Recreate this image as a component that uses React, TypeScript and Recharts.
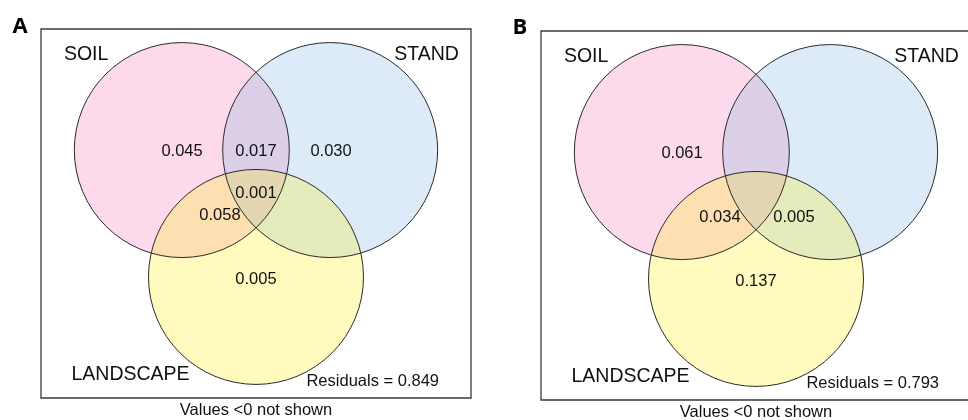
import React from 'react';
import { ScatterChart, Scatter, XAxis, YAxis, ReferenceArea } from 'recharts';

// ---- data ----
const setNames = ['SOIL', 'STAND', 'LANDSCAPE'];
const circleX = [-0.69, 0.69, 0];
const circleY = [0.59, 0.59, -0.59];
const circleR = [1.0, 1.0, 1.0];
const circleColors = ['#FBB5D7', '#BBD7F1', '#FFF77F'];
const regionColors = ['#FDDAEB', '#DDEBF8', '#FFFBBF'];
const setLabelX = [-1.58, 1.586, -1.167];
const setLabelY = [1.493, 1.493, -1.484];

const panelLetters = ['A', 'B'];
const residuals = [0.849, 0.793];

const valuesA = [0.045, 0.017, 0.03, 0.001, 0.058, 0.005];
const valuesAX = [-0.688, 0.0, 0.698, 0.0, -0.335, 0.0];
const valuesAY = [0.591, 0.591, 0.591, 0.2, -0.005, -0.6];

const valuesB = [0.061, 0.034, 0.005, 0.137];
const valuesBX = [-0.688, -0.335, 0.353, 0.0];
const valuesBY = [0.586, -0.01, -0.01, -0.605];

const residualPos = [1.086, -1.547];
const footnote = 'Values <0 not shown';

// ---- layout ----
const CHART_W = 500;
const CHART_H = 420;
const MARGIN = { top: 29, left: 41, right: 29, bottom: 22 };
const PLOT_W = CHART_W - MARGIN.left - MARGIN.right;
const PLOT_H = CHART_H - MARGIN.top - MARGIN.bottom;
const X_HALF = 2;
const PX_PER_UNIT = PLOT_W / (2 * X_HALF);
const Y_HALF = PLOT_H / 2 / PX_PER_UNIT;
const FONT = '"Liberation Sans", Arial, Helvetica, sans-serif';

const circles = setNames.map((name, i) => ({
  name,
  x: circleX[i],
  y: circleY[i],
  r: circleR[i],
  color: circleColors[i],
  region: regionColors[i],
}));

const setLabels = setNames.map((name, i) => ({ name, x: setLabelX[i], y: setLabelY[i] }));

const CircleFill = (props: any) => {
  const { cx, cy, payload } = props;
  return (
    <circle cx={cx} cy={cy} r={payload.r * PX_PER_UNIT} fill={payload.color} fillOpacity={0.5} stroke="none" />
  );
};
const CircleMultiply = (props: any) => {
  const { cx, cy, payload } = props;
  return (
    <circle
      cx={cx}
      cy={cy}
      r={payload.r * PX_PER_UNIT}
      fill={payload.region}
      stroke="none"
      style={{ mixBlendMode: 'multiply' }}
    />
  );
};
const CircleLine = (props: any) => {
  const { cx, cy, payload } = props;
  return <circle cx={cx} cy={cy} r={payload.r * PX_PER_UNIT} fill="none" stroke="#2b2b2b" strokeWidth={1} />;
};
const makeText = (size: number) => (props: any) => {
  const { cx, cy, payload } = props;
  return (
    <text x={cx} y={cy} dy={0.358 * size} textAnchor="middle" fontFamily={FONT} fontSize={size} fill="#111">
      {payload.label}
    </text>
  );
};
const SetText = makeText(19.5);
const ValueText = makeText(16.5);

function Panel({ idx, values, vx, vy, left, top }: any) {
  const valuePts = values.map((v: number, i: number) => ({ x: vx[i], y: vy[i], label: v.toFixed(3) }));
  const labelPts = setLabels.map((s) => ({ x: s.x, y: s.y, label: s.name }));
  const resPts = [{ x: residualPos[0], y: residualPos[1], label: `Residuals = ${residuals[idx].toFixed(3)}` }];
  return (
    <div style={{ position: 'absolute', left, top, width: CHART_W, height: CHART_H }}>
      <ScatterChart width={CHART_W} height={CHART_H} margin={MARGIN}>
        <XAxis type="number" dataKey="x" domain={[-X_HALF, X_HALF]} hide />
        <YAxis type="number" dataKey="y" domain={[-Y_HALF, Y_HALF]} hide />
        <ReferenceArea
          x1={-X_HALF}
          x2={X_HALF}
          y1={-Y_HALF}
          y2={Y_HALF}
          fill="none"
          fillOpacity={0}
          stroke="#3a3a3a"
          strokeWidth={1.3}
          ifOverflow="visible"
        />
        <Scatter data={circles} shape={CircleFill} isAnimationActive={false} />
        <Scatter data={circles} shape={CircleMultiply} className="mult-layer" isAnimationActive={false} />
        <Scatter data={circles} shape={CircleLine} isAnimationActive={false} />
        <Scatter data={labelPts} shape={SetText} isAnimationActive={false} />
        <Scatter data={valuePts} shape={ValueText} isAnimationActive={false} />
        <Scatter data={resPts} shape={ValueText} isAnimationActive={false} />
      </ScatterChart>
      <div
        style={{
          position: 'absolute',
          left: 0,
          top: 12.5,
          fontFamily: '"Open Sans", sans-serif',
          fontWeight: 700,
          fontSize: 22,
          lineHeight: '22px',
          width: 40,
          textAlign: 'center',
        }}
      >
        {panelLetters[idx]}
      </div>
      <div
        style={{
          position: 'absolute',
          left: 0,
          top: 400,
          width: 512,
          textAlign: 'center',
          fontFamily: FONT,
          fontSize: 16.5,
          lineHeight: '19px',
          color: '#111',
        }}
      >
        {footnote}
      </div>
    </div>
  );
}

export default function App() {
  return (
    <div style={{ position: 'absolute', left: 0, top: 0, width: 968, height: 420, overflow: 'hidden', background: '#fff' }}>
      <style>{`.mult-layer { opacity: 0.5; isolation: isolate; }`}</style>
      <Panel idx={0} values={valuesA} vx={valuesAX} vy={valuesAY} left={0} top={0} />
      <Panel idx={1} values={valuesB} vx={valuesBX} vy={valuesBY} left={500} top={1.5} />
    </div>
  );
}
